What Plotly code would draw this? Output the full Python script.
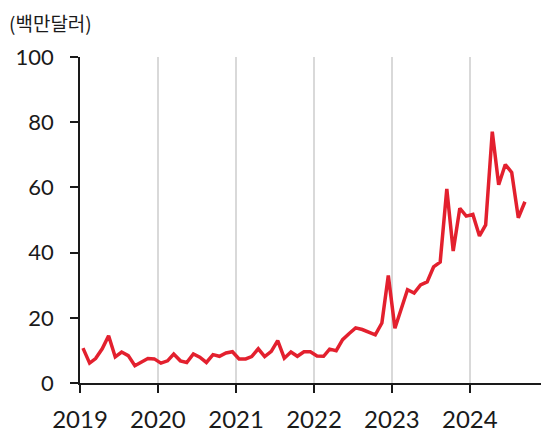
import plotly.graph_objects as go
import pandas as pd

values = [
    # 2019
    10.7, 6.1, 7.5, 10.5, 14.5, 8.0, 9.5, 8.4, 5.3, 6.3, 7.5, 7.4,
    # 2020
    6.1, 6.8, 8.9, 6.8, 6.3, 8.9, 7.9, 6.3, 8.7, 8.2, 9.2, 9.6,
    # 2021
    7.4, 7.4, 8.1, 10.5, 8.1, 9.7, 13.0, 7.6, 9.5, 8.2, 9.6, 9.6,
    # 2022
    8.3, 8.2, 10.4, 9.9, 13.3, 15.2, 16.9, 16.4, 15.7, 14.8, 18.4, 33.0,
    # 2023
    16.8, 22.7, 28.6, 27.6, 30.1, 31.0, 35.6, 37.1, 59.5, 40.5, 53.6, 51.2,
    # 2024
    51.7, 45.1, 48.5, 77.1, 60.8, 67.0, 64.6, 50.7, 55.6,
]
dates = pd.date_range("2019-01-01", periods=len(values), freq="MS") + pd.Timedelta(days=14)
tick_years = ["2019", "2020", "2021", "2022", "2023", "2024", "2025"]
tick_labels = ["2019", "2020", "2021", "2022", "2023", "2024", ""]
y_ticks = [0, 20, 40, 60, 80, 100]
unit_label = "(백만달러)"

font_family = "Lato, 'Noto Sans CJK KR', sans-serif"

fig = go.Figure()
fig.add_trace(go.Scatter(
    x=dates, y=values, mode="lines",
    line=dict(color="#e3202e", width=3.5),
    hoverinfo="skip",
))

fig.update_layout(
    width=541, height=427,
    margin=dict(l=72, r=1, t=49, b=52),
    paper_bgcolor="white", plot_bgcolor="white",
    showlegend=False,
    font=dict(family=font_family, color="#1a1a1a", size=22),
    annotations=[dict(
        text=unit_label, x=0, y=1, xref="paper", yref="paper",
        xanchor="left", yanchor="top", showarrow=False,
        xshift=-72, yshift=49, borderpad=0,
        font=dict(family="'Noto Sans CJK KR', sans-serif", size=19, color="#1a1a1a"),
    )],
)

fig.update_xaxes(
    type="date",
    range=[pd.Timestamp("2019-01-01"), pd.Timestamp("2025-01-01")],
    tickvals=[pd.Timestamp(y + "-01-01") for y in tick_years],
    ticktext=tick_labels,
    showgrid=True, gridcolor="#d9d9d9", gridwidth=2,
    showline=True, linecolor="#1a1a1a", linewidth=1.5,
    ticks="outside", ticklen=8, tickcolor="#1a1a1a", tickwidth=1.5,
    tickfont=dict(size=24),
    ticklabelstandoff=6,
    zeroline=False,
)
fig.update_yaxes(
    range=[0, 100],
    tickvals=y_ticks,
    showgrid=False,
    showline=True, linecolor="#1a1a1a", linewidth=1.5,
    ticks="outside", ticklen=8, tickcolor="#1a1a1a", tickwidth=1.5,
    tickfont=dict(size=22),
    ticklabelstandoff=12,
    zeroline=False,
)

fig.write_html("out.html")
